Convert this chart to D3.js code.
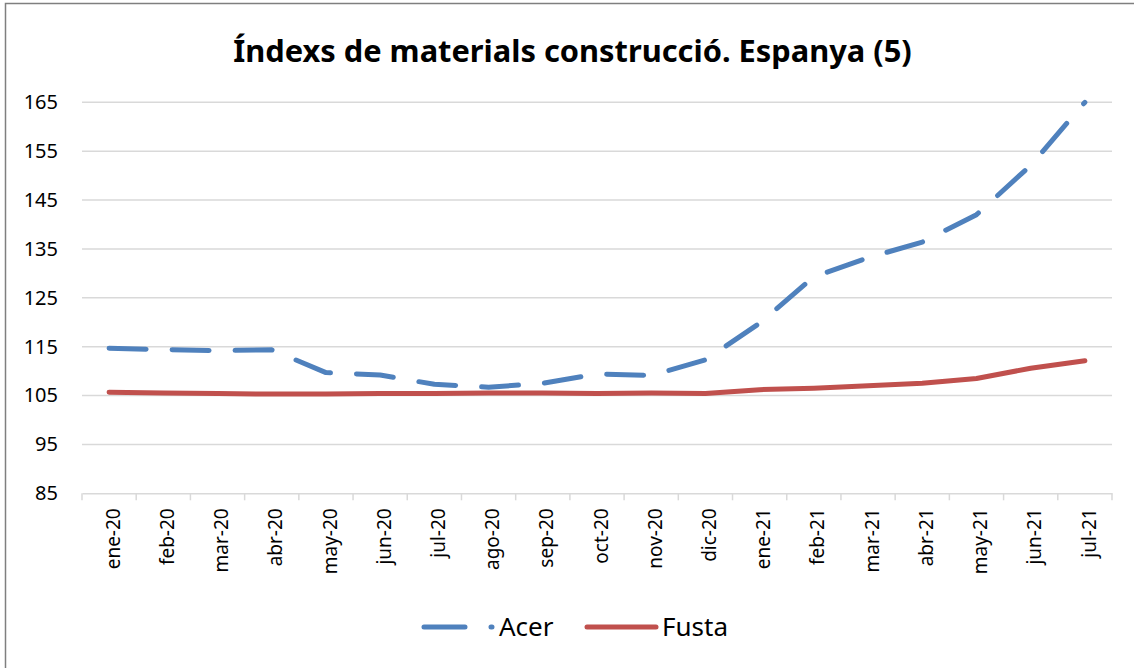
<!DOCTYPE html>
<html>
<head>
<meta charset="utf-8">
<script src="https://cdn.jsdelivr.net/npm/d3@7"></script>
<style>
  body { margin: 0; background: #fff; }
  svg { display: block; font-family: "Noto Sans", sans-serif; }
</style>
</head>
<body>
<div id="chart"></div>
<script>
// data
var months = ["ene-20", "feb-20", "mar-20", "abr-20", "may-20", "jun-20", "jul-20", "ago-20", "sep-20", "oct-20",
  "nov-20", "dic-20", "ene-21", "feb-21", "mar-21", "abr-21", "may-21", "jun-21", "jul-21"];
var acer = [114.7, 114.4, 114.2, 114.35, 109.7, 109.2, 107.3, 106.7, 107.5, 109.4,
  109.1, 112.3, 119.8, 129.3, 133.2, 136.4, 142.0, 152.1, 165.0];
var fusta = [105.7, 105.5, 105.4, 105.3, 105.3, 105.4, 105.4, 105.5, 105.5, 105.4,
  105.5, 105.4, 106.2, 106.5, 107.0, 107.5, 108.5, 110.6, 112.1];
var yTicks = [85, 95, 105, 115, 125, 135, 145, 155, 165];
var titleText = "Índexs de materials construcció. Espanya (5)";

var W = 1134, H = 668;
var margin = { top: 102.3, right: 22, bottom: 174.7, left: 82 },
  width = W - margin.left - margin.right,
  height = H - margin.top - margin.bottom;

var svg = d3.select("#chart")
  .append("svg")
  .attr("width", W)
  .attr("height", H);

// outer frame (only left and top edges are in view)
svg.append("rect")
  .attr("x", 5.5).attr("y", 3.5)
  .attr("width", W + 20).attr("height", H + 20)
  .attr("fill", "none")
  .attr("stroke", "#7f7f7f")
  .attr("stroke-width", 1.5);

// title, sized to the width it has in the picture
var title = svg.append("text")
  .attr("x", 572.5)
  .attr("y", 62)
  .attr("text-anchor", "middle")
  .style("font-weight", "bold")
  .style("font-size", "30px")
  .text(titleText);
var tl = title.node().getComputedTextLength();
title.style("font-size", (30 * 679 / tl) + "px");

var g = svg.append("g")
  .attr("transform", "translate(" + margin.left + "," + margin.top + ")");

var x = d3.scaleBand()
  .domain(months)
  .range([0, width]);

var y = d3.scaleLinear()
  .domain([85, 165])
  .range([height, 0]);

// gridlines
g.append("g")
  .selectAll("line")
  .data(yTicks.filter(function (d) { return d > 85; }))
  .enter().append("line")
  .attr("x1", 0).attr("x2", width)
  .attr("y1", function (d) { return y(d); })
  .attr("y2", function (d) { return y(d); })
  .attr("stroke", "#d9d9d9")
  .attr("stroke-width", 1.5);

// y axis labels
var yAxis = g.append("g")
  .call(d3.axisLeft(y).tickValues(yTicks).tickSize(0).tickPadding(24));
yAxis.select(".domain").remove();
yAxis.selectAll("text")
  .style("font-size", "20px")
  .style("font-family", "'Noto Sans', sans-serif")
  .attr("fill", "#000");

// x axis with ticks at band edges
var xAxis = g.append("g")
  .attr("transform", "translate(0," + height + ")")
  .call(d3.axisBottom(x).tickSize(0).tickPadding(0));
xAxis.select(".domain").attr("stroke", "#d9d9d9").attr("stroke-width", 1.5);
xAxis.selectAll("text")
  .style("font-size", "19px")
  .style("font-family", "'Noto Sans', sans-serif")
  .attr("fill", "#000")
  .attr("text-anchor", "end")
  .attr("dy", "0.56em")
  .attr("transform", "translate(0,15) rotate(-90)");

var edges = months.map(function (m) { return x(m); }).concat([width]);
xAxis.selectAll(".edge")
  .data(edges)
  .enter().append("line")
  .attr("class", "edge")
  .attr("x1", function (d) { return d; })
  .attr("x2", function (d) { return d; })
  .attr("y1", 0).attr("y2", 7)
  .attr("stroke", "#d9d9d9")
  .attr("stroke-width", 1.5);

var line = d3.line()
  .x(function (d, i) { return x(months[i]) + x.bandwidth() / 2; })
  .y(function (d) { return y(d); });

g.append("path")
  .datum(fusta)
  .attr("fill", "none")
  .attr("stroke", "#c0504d")
  .attr("stroke-width", 5)
  .attr("stroke-linecap", "round")
  .attr("stroke-linejoin", "round")
  .attr("d", line);

g.append("path")
  .datum(acer)
  .attr("fill", "none")
  .attr("stroke", "#4f81bd")
  .attr("stroke-width", 5)
  .attr("stroke-linecap", "round")
  .attr("stroke-linejoin", "round")
  .attr("stroke-dasharray", "37,26")
  .attr("d", line);

// legend
var legend = svg.append("g").attr("transform", "translate(0,627)");
legend.append("line")
  .attr("x1", 424).attr("x2", 492)
  .attr("y1", 0).attr("y2", 0)
  .attr("stroke", "#4f81bd").attr("stroke-width", 5)
  .attr("stroke-linecap", "round")
  .attr("stroke-dasharray", "41,26");
legend.append("text")
  .attr("x", 499).attr("y", 0).attr("dy", "0.35em")
  .style("font-size", "26px")
  .text("Acer");
legend.append("line")
  .attr("x1", 587).attr("x2", 656)
  .attr("y1", 0).attr("y2", 0)
  .attr("stroke", "#c0504d").attr("stroke-width", 5)
  .attr("stroke-linecap", "round");
legend.append("text")
  .attr("x", 662).attr("y", 0).attr("dy", "0.35em")
  .style("font-size", "26px")
  .text("Fusta");
</script>
</body>
</html>
